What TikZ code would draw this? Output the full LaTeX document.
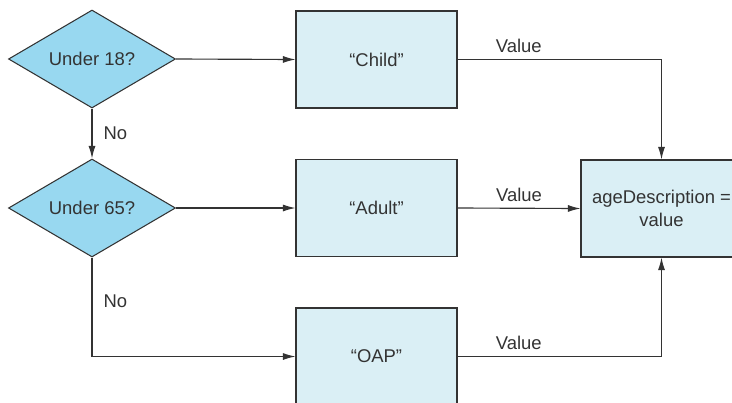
\documentclass[tikz,border=0pt]{standalone}
\usepackage{fontspec}
\setmainfont{Liberation Sans}
\usepackage{tikz}
\usepackage{xcolor}
\usetikzlibrary{shapes,arrows.meta,positioning,calc}
\definecolor{decisionblue}{RGB}{152,216,240}
\definecolor{resultblue}{RGB}{218,239,245}
\definecolor{linegray}{RGB}{51,51,51}

\tikzset{
  decision/.style={diamond, draw=linegray, fill=decisionblue, line width=0.6pt,
    aspect=1.7, minimum width=3.34cm, minimum height=1.96cm, inner sep=0pt},
  result/.style={rectangle, draw=linegray, fill=resultblue, line width=0.6pt,
    minimum width=3.22cm, minimum height=1.94cm, align=center},
  flow/.style={draw=linegray, line width=0.65pt, -{Latex[length=2.5mm,width=1.4mm]}},
  flowlabel/.style={text=linegray, inner sep=2pt}
}

\begin{document}
\begin{tikzpicture}[font=\fontsize{10.5}{13}\selectfont, text=linegray]
    \useasboundingbox (0,0) rectangle (14.64,8.04);
    \clip (0,0) rectangle (14.64,8.04);

    % Decisions
    \node[decision] (under18) at (1.84,6.86) {Under 18?};
    \node[decision] (under65) at (1.84,3.88) {Under 65?};

    % Results
    \node[result] (child) at (7.53,6.85) {“Child”};
    \node[result] (adult) at (7.53,3.88) {“Adult”};
    \node[result] (oap) at (7.53,0.91) {“OAP”};
    \node[result] (agedesc) at (13.23,3.87) {ageDescription =\\value};

    % Connectors
    \draw[flow] (under18.east) -- (child.west);
    \draw[flow] (under18.south) -- node[flowlabel, right=0.15cm, midway] {No} (under65.north);
    \draw[flow] (under65.east) -- (adult.west);
    \draw[flow] (under65.south) |- node[flowlabel, right=0.15cm, pos=0.22] {No} (oap.west);

    \draw[flow] (child.east) -| node[flowlabel, above=0.05cm, pos=0.15] {Value} (agedesc.north);
    \draw[flow] (adult.east) -- node[flowlabel, above=0.05cm, midway] {Value} (agedesc.west);
    \draw[flow] (oap.east) -| node[flowlabel, above=0.05cm, pos=0.15] {Value} (agedesc.south);
\end{tikzpicture}
\end{document}
